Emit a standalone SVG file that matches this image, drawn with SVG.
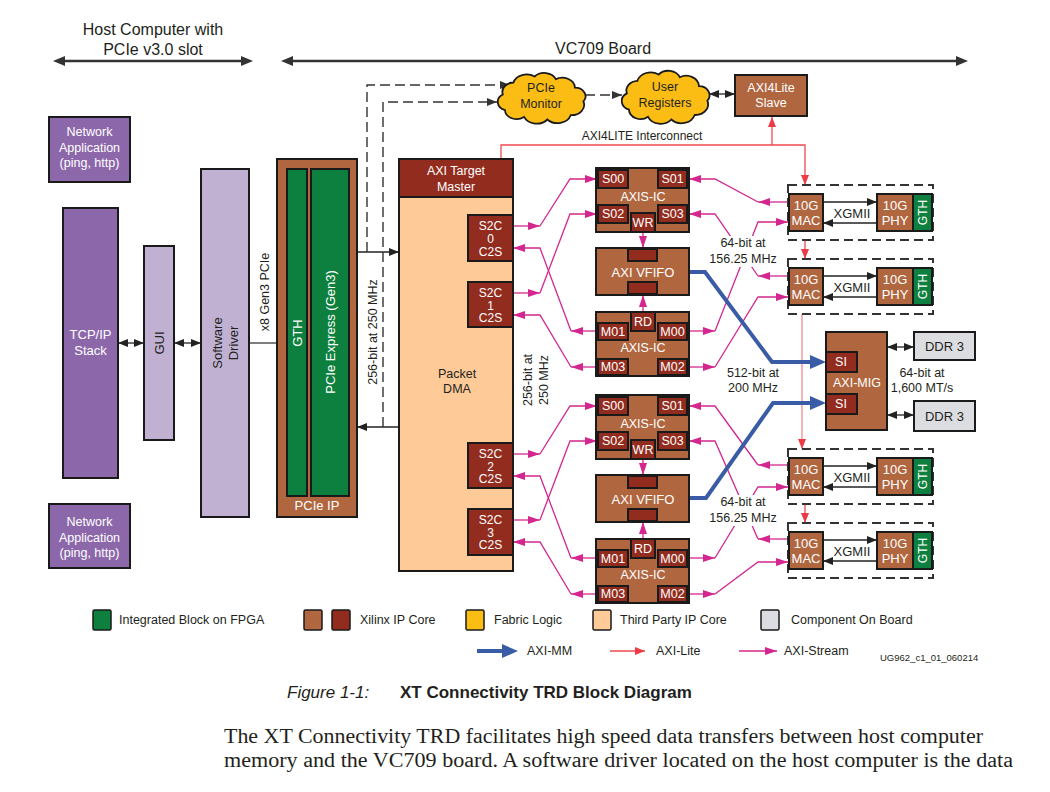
<svg xmlns="http://www.w3.org/2000/svg" width="1050" height="792" viewBox="0 0 1050 792">
<defs>
<style>
text{font-family:'Liberation Sans',Arial,Helvetica,sans-serif;font-size:12.5px;fill:#231f20;text-anchor:middle;dominant-baseline:central}
.w{fill:#fff}
.st{text-anchor:start}
.sm{font-size:12px}
.bx{stroke:#1a1a1a;stroke-width:2}
.lg{stroke:#1a1a1a;stroke-width:1.5}
.pu{fill:#8c68ab}.lp{fill:#c0b1d3}.br{fill:#b0663f}.dr{fill:#922c1e}.gr{fill:#0d7f3e}.pe{fill:#fdca98}.gy{fill:#dcdde0}.ye{fill:#fbbd14}
.mag{stroke:#d4268f;stroke-width:1.3;fill:none}
.red{stroke:#ee4a52;stroke-width:1.3;fill:none}
.pink{stroke:#f49a9c;stroke-width:1.5;fill:none}
.blue{stroke:#3a5ba6;stroke-width:4;fill:none}
.dash{stroke:#333;stroke-width:1.4;fill:none;stroke-dasharray:10 5}
.blk{stroke:#222;stroke-width:1.3;fill:none}
.dbox{stroke:#333;stroke-width:2;fill:none;stroke-dasharray:9 5}
.hdr{stroke:#333;stroke-width:2.5;fill:none}
.cl{stroke:#1a1a1a;stroke-width:1.8}
</style>
<marker id="mkh" viewBox="0 0 12 10" refX="7" refY="5" markerWidth="12" markerHeight="10" markerUnits="userSpaceOnUse" orient="auto-start-reverse"><path d="M0,0 L12,5 L0,10 z" fill="#333"/></marker>
<marker id="mk" viewBox="0 0 10 8" refX="10" refY="4" markerWidth="10" markerHeight="8" markerUnits="userSpaceOnUse" orient="auto-start-reverse"><path d="M0,0 L10,4 L0,8 z" fill="#222"/></marker>
<marker id="mkd" viewBox="0 0 10 8" refX="10" refY="4" markerWidth="10" markerHeight="8" markerUnits="userSpaceOnUse" orient="auto"><path d="M0,0 L10,4 L0,8 z" fill="#333"/></marker>
<marker id="mkm" viewBox="0 0 12 8" refX="12" refY="4" markerWidth="12" markerHeight="8" markerUnits="userSpaceOnUse" orient="auto"><path d="M0,0 L12,4 L0,8 z" fill="#d4268f"/></marker>
<marker id="mkr" viewBox="0 0 10 8" refX="10" refY="4" markerWidth="10" markerHeight="8" markerUnits="userSpaceOnUse" orient="auto"><path d="M0,0 L10,4 L0,8 z" fill="#ee3a44"/></marker>
<marker id="mkb" viewBox="0 0 16 14" refX="6" refY="7" markerWidth="16" markerHeight="14" markerUnits="userSpaceOnUse" orient="auto"><path d="M0,0 L16,7 L0,14 z" fill="#3a5ba6"/></marker>
<path id="cloud" vector-effect="non-scaling-stroke" d="M-36,-4 A11,11 0 0 1 -26,-18 A13,13 0 0 1 -6,-25 A12,12 0 0 1 14,-22 A12,12 0 0 1 32,-12 A10,10 0 0 1 40,4 A12,12 0 0 1 28,20 A13,13 0 0 1 6,25 A13,13 0 0 1 -16,22 A11,11 0 0 1 -34,14 A10,10 0 0 1 -36,-4 Z"/>
</defs>
<rect width="1050" height="792" fill="#fff"/>

<g id="header">
<text x="153" y="29" style="font-size:16px">Host Computer with</text>
<text x="153" y="49" style="font-size:16px">PCIe v3.0 slot</text>
<line class="hdr" x1="58" y1="61" x2="248" y2="61" marker-start="url(#mkh)" marker-end="url(#mkh)"/>
<text x="603" y="48" style="font-size:16px">VC709 Board</text>
<line class="hdr" x1="286" y1="61" x2="963" y2="61" marker-start="url(#mkh)" marker-end="url(#mkh)"/>
</g>

<g id="connectors">
<path class="blk" d="M118,343 H144" marker-start="url(#mk)" marker-end="url(#mk)"/>
<path class="blk" d="M174,343 H201" marker-start="url(#mk)" marker-end="url(#mk)"/>
<path d="M249,343 H277" stroke="#555" stroke-width="1.5" fill="none"/>
<path class="blk" d="M357,252 H399" marker-end="url(#mk)"/>
<path class="blk" d="M399,427 H357" marker-end="url(#mk)"/>
<path class="dash" d="M367,252 V85 H510" marker-end="url(#mkd)"/>
<path class="dash" d="M383,427 V102 H497" marker-end="url(#mkd)"/>
<path class="dash" d="M585,95 H622" marker-end="url(#mkd)"/>
<path class="blk" d="M709,94 H735" marker-start="url(#mk)" marker-end="url(#mk)"/>
<path class="red" d="M501,159 V145 H805 V185" marker-end="url(#mkr)"/>
<path class="red" d="M772,145 V117" marker-end="url(#mkr)"/>
<path class="red" d="M805,240 V259" marker-end="url(#mkr)"/>
<path class="pink" d="M802,314 V449" marker-end="url(#mkr)"/>
<path class="red" d="M805,503 V523" marker-end="url(#mkr)"/>
<path class="mag" d="M513,226 H540" marker-end="url(#mkm)"/>
<path class="mag" d="M540,226 L570,179 H597" marker-end="url(#mkm)"/>
<path class="mag" d="M597,331 H571" marker-end="url(#mkm)"/>
<path class="mag" d="M571,331 L540,248 H513" marker-end="url(#mkm)"/>
<path class="mag" d="M513,293 H540" marker-end="url(#mkm)"/>
<path class="mag" d="M540,293 L570,214 H597" marker-end="url(#mkm)"/>
<path class="mag" d="M597,367 H571" marker-end="url(#mkm)"/>
<path class="mag" d="M571,367 L540,315 H513" marker-end="url(#mkm)"/>
<path class="mag" d="M513,454 H540" marker-end="url(#mkm)"/>
<path class="mag" d="M540,454 L570,406 H597" marker-end="url(#mkm)"/>
<path class="mag" d="M597,558 H571" marker-end="url(#mkm)"/>
<path class="mag" d="M571,558 L540,476 H513" marker-end="url(#mkm)"/>
<path class="mag" d="M513,520 H540" marker-end="url(#mkm)"/>
<path class="mag" d="M540,520 L570,441 H597" marker-end="url(#mkm)"/>
<path class="mag" d="M597,594 H571" marker-end="url(#mkm)"/>
<path class="mag" d="M571,594 L540,542 H513" marker-end="url(#mkm)"/>
<path class="mag" d="M643,232 V248" marker-end="url(#mkm)"/>
<path class="mag" d="M643,312 V295" marker-end="url(#mkm)"/>
<path class="mag" d="M643,459 V475" marker-end="url(#mkm)"/>
<path class="mag" d="M643,539 V522" marker-end="url(#mkm)"/>
<path class="mag" d="M788,202 H758" marker-end="url(#mkm)"/>
<path class="mag" d="M758,202 L715,179 H689" marker-end="url(#mkm)"/>
<path class="mag" d="M689,331 H715" marker-end="url(#mkm)"/>
<path class="mag" d="M715,331 L758,222 H788" marker-end="url(#mkm)"/>
<path class="mag" d="M788,276 H758" marker-end="url(#mkm)"/>
<path class="mag" d="M758,276 L715,214 H689" marker-end="url(#mkm)"/>
<path class="mag" d="M689,367 H715" marker-end="url(#mkm)"/>
<path class="mag" d="M715,367 L758,297 H788" marker-end="url(#mkm)"/>
<path class="mag" d="M788,465 H758" marker-end="url(#mkm)"/>
<path class="mag" d="M758,465 L715,406 H689" marker-end="url(#mkm)"/>
<path class="mag" d="M689,558 H715" marker-end="url(#mkm)"/>
<path class="mag" d="M715,558 L758,487 H788" marker-end="url(#mkm)"/>
<path class="mag" d="M788,539 H758" marker-end="url(#mkm)"/>
<path class="mag" d="M758,539 L715,441 H689" marker-end="url(#mkm)"/>
<path class="mag" d="M689,594 H715" marker-end="url(#mkm)"/>
<path class="mag" d="M715,594 L758,562 H788" marker-end="url(#mkm)"/>
<path class="blue" d="M689,272 H705 L772,362 H816" marker-end="url(#mkb)"/>
<path class="blue" d="M689,498 H706 L773,403 H816" marker-end="url(#mkb)"/>
<path class="blk" d="M887,347 H914" marker-start="url(#mk)" marker-end="url(#mk)"/>
<path class="blk" d="M887,415 H914" marker-start="url(#mk)" marker-end="url(#mk)"/>
<path class="blk" d="M823,202 H877" marker-end="url(#mk)"/>
<path class="blk" d="M877,223 H823" marker-end="url(#mk)"/>
<path class="blk" d="M823,276 H877" marker-end="url(#mk)"/>
<path class="blk" d="M877,297 H823" marker-end="url(#mk)"/>
<path class="blk" d="M823,466 H877" marker-end="url(#mk)"/>
<path class="blk" d="M877,487 H823" marker-end="url(#mk)"/>
<path class="blk" d="M823,540 H877" marker-end="url(#mk)"/>
<path class="blk" d="M877,561 H823" marker-end="url(#mk)"/>
</g>

<g id="labels">
<text transform="translate(265,292) rotate(-90)">x8 Gen3 PCIe</text>
<text transform="translate(373,332) rotate(-90)">256-bit at 250 MHz</text>
<text transform="translate(528,380) rotate(-90)">256-bit at</text>
<text transform="translate(544,380) rotate(-90)">250 MHz</text>
<text x="642" y="136" class="sm">AXI4LITE Interconnect</text>
<rect x="716" y="236" width="55" height="31" fill="#fff"/>
<text x="743" y="243">64-bit at</text>
<text x="743" y="259">156.25 MHz</text>
<rect x="716" y="495" width="55" height="31" fill="#fff"/>
<text x="743" y="502">64-bit at</text>
<text x="743" y="518">156.25 MHz</text>
<text x="753" y="373">512-bit at</text>
<text x="753" y="388">200 MHz</text>
<text x="922" y="373">64-bit at</text>
<text x="922" y="388">1,600 MT/s</text>
<text x="852" y="213" style="font-size:13px">XGMII</text>
<text x="852" y="287" style="font-size:13px">XGMII</text>
<text x="852" y="477" style="font-size:13px">XGMII</text>
<text x="852" y="551" style="font-size:13px">XGMII</text>
</g>

<g id="netapp-top"><rect class="pu bx" x="49" y="117" width="81" height="65"/><text class="w" x="89.5" y="132">Network</text><text class="w" x="89.5" y="147.5">Application</text><text class="w" x="89.5" y="163">(ping, http)</text></g>
<g id="netapp-bottom"><rect class="pu bx" x="49" y="504" width="81" height="64"/><text class="w" x="89.5" y="522">Network</text><text class="w" x="89.5" y="537.5">Application</text><text class="w" x="89.5" y="553">(ping, http)</text></g>
<g id="tcpip"><rect class="pu bx" x="63" y="208" width="55" height="270"/><text class="w" x="90.5" y="334" style="font-size:13px">TCP/IP</text><text class="w" x="90.5" y="350" style="font-size:13px">Stack</text></g>
<g id="gui"><rect class="lp bx" x="144" y="246" width="30" height="194"/><text transform="translate(159,343) rotate(-90)" style="font-size:13px">GUI</text></g>
<g id="driver"><rect class="lp bx" x="201" y="169" width="48" height="348"/><text transform="translate(217,343) rotate(-90)" style="font-size:13px">Software</text><text transform="translate(233,343) rotate(-90)" style="font-size:13px">Driver</text></g>
<g id="pcie-ip"><rect class="br bx" x="277" y="159" width="80" height="358"/>
<rect class="gr bx" x="287" y="169" width="20" height="327"/>
<rect class="gr bx" x="311" y="169" width="38" height="327"/>
<text class="w" transform="translate(297,333) rotate(-90)" style="font-size:13px">GTH</text>
<text class="w" transform="translate(330,332) rotate(-90)" style="font-size:13px">PCIe Express (Gen3)</text>
<text class="w" x="317" y="505" style="font-size:13px">PCIe IP</text></g>

<g id="pcie-monitor"><use href="#cloud" class="ye cl" transform="translate(541,98) scale(1.06,0.86)"/><text x="541" y="88">PCIe</text><text x="541" y="104">Monitor</text></g>
<g id="user-registers"><use href="#cloud" class="ye cl" transform="translate(665,97) scale(1.06,0.9)"/><text x="665" y="87">User</text><text x="665" y="103">Registers</text></g>
<g id="axi4lite-slave"><rect class="br bx" x="735" y="75" width="72" height="41"/><text class="w" x="771" y="88">AXI4Lite</text><text class="w" x="771" y="103">Slave</text></g>

<g id="packet-dma"><rect class="pe bx" x="399" y="159" width="114" height="412"/>
<rect class="dr bx" x="399" y="159" width="114" height="38"/>
<text class="w" x="456" y="171">AXI Target</text><text class="w" x="456" y="187">Master</text>
<text x="457" y="374">Packet</text><text x="457" y="389">DMA</text>
<g id="s2c0"><rect class="dr bx" x="468" y="215" width="45" height="46"/><text class="w sm" x="490.5" y="226">S2C</text><text class="w sm" x="490.5" y="239">0</text><text class="w sm" x="490.5" y="252">C2S</text></g>
<g id="s2c1"><rect class="dr bx" x="468" y="282" width="45" height="45"/><text class="w sm" x="490.5" y="293">S2C</text><text class="w sm" x="490.5" y="306">1</text><text class="w sm" x="490.5" y="318">C2S</text></g>
<g id="s2c2"><rect class="dr bx" x="468" y="443" width="45" height="45"/><text class="w sm" x="490.5" y="454">S2C</text><text class="w sm" x="490.5" y="467">2</text><text class="w sm" x="490.5" y="479">C2S</text></g>
<g id="s2c3"><rect class="dr bx" x="468" y="509" width="45" height="46"/><text class="w sm" x="490.5" y="520">S2C</text><text class="w sm" x="490.5" y="533">3</text><text class="w sm" x="490.5" y="545">C2S</text></g>
</g>

<g id="axis-ic-1"><rect class="br bx" x="596" y="168" width="93" height="64"/>
<rect class="dr bx" x="598" y="170" width="30" height="18"/><text class="w" x="613" y="179">S00</text>
<rect class="dr bx" x="658" y="170" width="29" height="18"/><text class="w" x="672.5" y="179">S01</text>
<rect class="dr bx" x="598" y="205" width="30" height="18"/><text class="w" x="613" y="214">S02</text>
<rect class="dr bx" x="658" y="205" width="29" height="18"/><text class="w" x="672.5" y="214">S03</text>
<rect class="dr bx" x="631" y="213" width="24" height="19"/><text class="w" x="643" y="223">WR</text>
<text class="w" x="643" y="197">AXIS-IC</text></g>
<g id="axi-vfifo-1"><rect class="br bx" x="596" y="248" width="93" height="47"/>
<rect class="dr bx" x="628" y="249" width="29" height="12"/><rect class="dr bx" x="628" y="282" width="29" height="12"/>
<text class="w" x="643" y="272" style="font-size:13px">AXI VFIFO</text></g>
<g id="axis-ic-2"><rect class="br bx" x="596" y="312" width="93" height="64"/>
<rect class="dr bx" x="631" y="312" width="24" height="19"/><text class="w" x="643" y="321.5">RD</text>
<rect class="dr bx" x="598" y="323" width="30" height="17"/><text class="w" x="613" y="331.5">M01</text>
<rect class="dr bx" x="658" y="323" width="29" height="17"/><text class="w" x="672.5" y="331.5">M00</text>
<rect class="dr bx" x="598" y="359" width="30" height="16"/><text class="w" x="613" y="367">M03</text>
<rect class="dr bx" x="658" y="359" width="29" height="16"/><text class="w" x="672.5" y="367">M02</text>
<text class="w" x="643" y="348">AXIS-IC</text></g>

<g id="axis-ic-3"><rect class="br bx" x="596" y="395" width="93" height="64"/>
<rect class="dr bx" x="598" y="397" width="30" height="18"/><text class="w" x="613" y="406">S00</text>
<rect class="dr bx" x="658" y="397" width="29" height="18"/><text class="w" x="672.5" y="406">S01</text>
<rect class="dr bx" x="598" y="432" width="30" height="18"/><text class="w" x="613" y="441">S02</text>
<rect class="dr bx" x="658" y="432" width="29" height="18"/><text class="w" x="672.5" y="441">S03</text>
<rect class="dr bx" x="631" y="440" width="24" height="19"/><text class="w" x="643" y="450">WR</text>
<text class="w" x="643" y="424">AXIS-IC</text></g>
<g id="axi-vfifo-2"><rect class="br bx" x="596" y="475" width="93" height="47"/>
<rect class="dr bx" x="628" y="476" width="29" height="12"/><rect class="dr bx" x="628" y="509" width="29" height="12"/>
<text class="w" x="643" y="499" style="font-size:13px">AXI VFIFO</text></g>
<g id="axis-ic-4"><rect class="br bx" x="596" y="539" width="93" height="64"/>
<rect class="dr bx" x="631" y="539" width="24" height="19"/><text class="w" x="643" y="548.5">RD</text>
<rect class="dr bx" x="598" y="550" width="30" height="17"/><text class="w" x="613" y="558.5">M01</text>
<rect class="dr bx" x="658" y="550" width="29" height="17"/><text class="w" x="672.5" y="558.5">M00</text>
<rect class="dr bx" x="598" y="586" width="30" height="16"/><text class="w" x="613" y="594">M03</text>
<rect class="dr bx" x="658" y="586" width="29" height="16"/><text class="w" x="672.5" y="594">M02</text>
<text class="w" x="643" y="575">AXIS-IC</text></g>

<g id="mac-phy-1"><rect class="dbox" x="788" y="185" width="145" height="55"/>
<rect class="br bx" x="789" y="194" width="34" height="37"/><text class="w" x="806" y="205" style="font-size:13px">10G</text><text class="w" x="806" y="220" style="font-size:13px">MAC</text>
<rect class="br bx" x="877" y="194" width="36" height="37"/><text class="w" x="895" y="205" style="font-size:13px">10G</text><text class="w" x="895" y="220" style="font-size:13px">PHY</text>
<rect class="gr bx" x="913" y="194" width="19" height="37"/><text class="w" transform="translate(922.5,212.5) rotate(-90)" style="font-size:12px">GTH</text></g>
<g id="mac-phy-2"><rect class="dbox" x="788" y="259" width="145" height="55"/>
<rect class="br bx" x="789" y="268" width="34" height="37"/><text class="w" x="806" y="279" style="font-size:13px">10G</text><text class="w" x="806" y="294" style="font-size:13px">MAC</text>
<rect class="br bx" x="877" y="268" width="36" height="37"/><text class="w" x="895" y="279" style="font-size:13px">10G</text><text class="w" x="895" y="294" style="font-size:13px">PHY</text>
<rect class="gr bx" x="913" y="268" width="19" height="37"/><text class="w" transform="translate(922.5,286.5) rotate(-90)" style="font-size:12px">GTH</text></g>
<g id="mac-phy-3"><rect class="dbox" x="788" y="449" width="145" height="55"/>
<rect class="br bx" x="789" y="458" width="34" height="37"/><text class="w" x="806" y="469" style="font-size:13px">10G</text><text class="w" x="806" y="484" style="font-size:13px">MAC</text>
<rect class="br bx" x="877" y="458" width="36" height="37"/><text class="w" x="895" y="469" style="font-size:13px">10G</text><text class="w" x="895" y="484" style="font-size:13px">PHY</text>
<rect class="gr bx" x="913" y="458" width="19" height="37"/><text class="w" transform="translate(922.5,476.5) rotate(-90)" style="font-size:12px">GTH</text></g>
<g id="mac-phy-4"><rect class="dbox" x="788" y="523" width="145" height="55"/>
<rect class="br bx" x="789" y="532" width="34" height="37"/><text class="w" x="806" y="543" style="font-size:13px">10G</text><text class="w" x="806" y="558" style="font-size:13px">MAC</text>
<rect class="br bx" x="877" y="532" width="36" height="37"/><text class="w" x="895" y="543" style="font-size:13px">10G</text><text class="w" x="895" y="558" style="font-size:13px">PHY</text>
<rect class="gr bx" x="913" y="532" width="19" height="37"/><text class="w" transform="translate(922.5,550.5) rotate(-90)" style="font-size:12px">GTH</text></g>

<g id="axi-mig"><rect class="br bx" x="826" y="332" width="61" height="98"/>
<rect class="dr bx" x="826" y="352" width="31" height="20"/><text class="w" x="841" y="362">SI</text>
<rect class="dr bx" x="826" y="394" width="31" height="20"/><text class="w" x="841" y="404">SI</text>
<text class="w" x="857" y="383">AXI-MIG</text></g>
<g id="ddr3-top"><rect class="gy bx" x="914" y="332" width="61" height="28"/><text x="944.5" y="346" style="font-size:13px">DDR 3</text></g>
<g id="ddr3-bottom"><rect class="gy bx" x="914" y="401" width="61" height="30"/><text x="944.5" y="416" style="font-size:13px">DDR 3</text></g>

<g id="legend">
<rect class="gr lg" x="93" y="610" width="18" height="20" rx="1.5"/><text class="st" x="119" y="620">Integrated Block on FPGA</text>
<rect class="br lg" x="304" y="610" width="18" height="20" rx="1.5"/><rect class="dr lg" x="332" y="610" width="18" height="20" rx="1.5"/><text class="st" x="360" y="620">Xilinx IP Core</text>
<rect class="ye lg" x="466" y="610" width="18" height="20" rx="1.5"/><text class="st" x="494" y="620">Fabric Logic</text>
<rect class="pe lg" x="593" y="610" width="18" height="20" rx="1.5"/><text class="st" x="620" y="620">Third Party IP Core</text>
<rect class="gy lg" x="761" y="610" width="18" height="20" rx="1.5"/><text class="st" x="791" y="620">Component On Board</text>
<path class="blue" d="M477,651 H508" marker-end="url(#mkb)"/><text class="st" x="527" y="651">AXI-MM</text>
<path class="red" d="M610,651 H645" marker-end="url(#mkr)"/><text class="st" x="656" y="651">AXI-Lite</text>
<path class="mag" d="M739,651 H777" marker-end="url(#mkm)"/><text class="st" x="784" y="651">AXI-Stream</text>
<text class="st" x="880" y="657" style="font-size:9.5px">UG962_c1_01_060214</text>
</g>

<g id="caption">
<text class="st" x="287" y="698" style="font-size:17px;font-style:italic;dominant-baseline:auto">Figure 1-1:</text>
<text class="st" x="400" y="698" style="font-size:17px;font-weight:bold;dominant-baseline:auto">XT Connectivity TRD Block Diagram</text>
<text class="st" x="224" y="743" textLength="759" lengthAdjust="spacingAndGlyphs" style="font-family:'Liberation Serif','Times New Roman',serif;font-size:20.5px;dominant-baseline:auto">The XT Connectivity TRD facilitates high speed data transfers between host computer</text>
<text class="st" x="224" y="767" textLength="789" lengthAdjust="spacingAndGlyphs" style="font-family:'Liberation Serif','Times New Roman',serif;font-size:20.5px;dominant-baseline:auto">memory and the VC709 board. A software driver located on the host computer is the data</text>
</g>
</svg>
